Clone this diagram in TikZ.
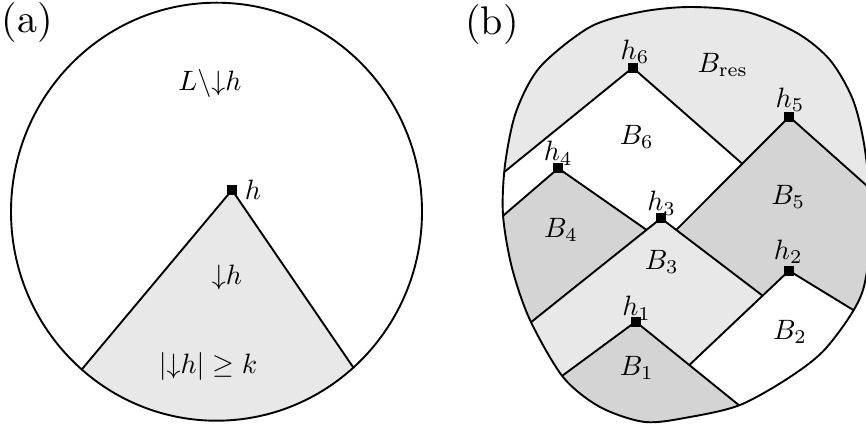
\documentclass[tikz,border=0pt]{standalone}
\definecolor{lightg}{gray}{0.91}
\definecolor{darkg}{gray}{0.83}
\begin{document}
\begin{tikzpicture}[x=1pt,y=-1pt,
  edge/.style={line width=1.9pt},
  hsq/.style={fill=black, minimum size=10pt, inner sep=0pt, outer sep=0pt, draw=none},
  lbl/.style={inner sep=0pt, scale=2.8},
  tag/.style={inner sep=0pt, scale=4.0}]
\useasboundingbox (0,0) rectangle (866,427);

% ---------- (a) ----------
\coordinate (C) at (216.5,211.7);
\coordinate (Ha) at (232,190);
\coordinate (AL) at (22.7,440);
\coordinate (AR) at (402.9,440);
\begin{scope}
  \clip (C) ellipse [x radius=205.5, y radius=209];
  \fill[lightg] (Ha) -- (AL) -- (AR) -- cycle;
  \draw[edge] (AL) -- (Ha) -- (AR);
\end{scope}
\draw[edge] (C) ellipse [x radius=205.5, y radius=209];
\node[hsq] (h) at (Ha) {};
\node[lbl] (hl) at (253,190) {$h$};
\node[lbl] (lout) at (210,84) {$L\backslash{\downarrow}h$};
\node[lbl] (ldown) at (227,277) {${\downarrow}h$};
\node[lbl] (lsize) at (208,366) {$|{\downarrow}h|\geq k$};
\node[tag] (ta) at (27.5,23) {(a)};

% ---------- (b) ----------
\coordinate (H6) at (632.7,67.7);
\coordinate (H5) at (789.3,116.7);
\coordinate (H4) at (558.3,168.3);
\coordinate (H3) at (661,218.3);
\coordinate (H2) at (789,270.7);
\coordinate (H1) at (635.7,321.7);
\coordinate (A6L) at (480,191.7);
\coordinate (A5R) at (890,206.4);
\coordinate (A4L) at (480,235.6);
\coordinate (A3L) at (480,363);
\coordinate (A2R) at (890,332.5);
\coordinate (A1L) at (480,436.3);
\coordinate (A1R) at (782,440);
\coordinate (D6R) at (741.7,163.3);
\coordinate (D5L) at (676.7,229.3);
\coordinate (D4R) at (646.7,230);
\coordinate (D3R) at (761.7,295);
\coordinate (D2L) at (691.7,362.7);
\coordinate (J65) at (intersection of H6--D6R and H5--D5L);
\coordinate (J53) at (intersection of H5--D5L and H3--D3R);
\coordinate (J43) at (intersection of H4--D4R and H3--A3L);
\coordinate (J32) at (intersection of H3--D3R and H2--D2L);
\coordinate (J21) at (intersection of H2--D2L and H1--A1R);

\begin{scope}
  \clip plot[smooth cycle, tension=0.5] coordinates {(690,7) (747,12) (797,33) (830,60) (853,100) (865,150) (871,222) (862,293) (827,347) (790,377) (740,405) (690,417) (645,422) (600,407) (563,377) (530,320) (512,268) (503,215) (505,165) (516,112) (540,67) (590,27) (640,12)};
  \fill[lightg] (470,0) rectangle (890,440);
  \fill[white] (A6L) -- (H6) -- (J65) -- (J53) -- (H3) -- (J43) -- (H4) -- (A4L) -- cycle;
  \fill[darkg] (H5) -- (A5R) -- (A2R) -- (H2) -- (J32) -- (J53) -- cycle;
  \fill[darkg] (H4) -- (J43) -- (A3L) -- (A4L) -- cycle;
  \fill[lightg] (H3) -- (J32) -- (J21) -- (H1) -- (A1L) -- (A3L) -- cycle;
  \fill[white] (H2) -- (A2R) -- (890,440) -- (A1R) -- (J21) -- cycle;
  \fill[darkg] (H1) -- (A1R) -- (480,440) -- (A1L) -- cycle;
  \draw[edge] (A6L) -- (H6) -- (J65);
  \draw[edge] (A5R) -- (H5) -- (J53);
  \draw[edge] (A4L) -- (H4) -- (J43);
  \draw[edge] (A3L) -- (H3) -- (J32);
  \draw[edge] (A2R) -- (H2) -- (J21);
  \draw[edge] (A1L) -- (H1) -- (A1R);
\end{scope}
\draw[edge] plot[smooth cycle, tension=0.5] coordinates {(690,7) (747,12) (797,33) (830,60) (853,100) (865,150) (871,222) (862,293) (827,347) (790,377) (740,405) (690,417) (645,422) (600,407) (563,377) (530,320) (512,268) (503,215) (505,165) (516,112) (540,67) (590,27) (640,12)};

\node[hsq] (h6) at (H6) {};
\node[hsq] (h5) at (H5) {};
\node[hsq] (h4) at (H4) {};
\node[hsq] (h3) at (H3) {};
\node[hsq] (h2) at (H2) {};
\node[hsq] (h1) at (H1) {};
\node[lbl] (lh6) at (635,52) {$h_6$};
\node[lbl] (lh5) at (790,100) {$h_5$};
\node[lbl] (lh4) at (558.3,153.3) {$h_4$};
\node[lbl] (lh3) at (661.7,203.3) {$h_3$};
\node[lbl] (lh2) at (788.3,251.7) {$h_2$};
\node[lbl] (lh1) at (636.7,308.3) {$h_1$};
\node[lbl] (bres) at (722.7,65) {$B_{\mathrm{res}}$};
\node[lbl] (b6) at (636.7,136.7) {$B_6$};
\node[lbl] (b5) at (788.3,196.7) {$B_5$};
\node[lbl] (b4) at (561,230) {$B_4$};
\node[lbl] (b3) at (661.7,261.7) {$B_3$};
\node[lbl] (b2) at (790,331.7) {$B_2$};
\node[lbl] (b1) at (636.7,368.3) {$B_1$};
\node[tag] (tb) at (492,25) {(b)};
\end{tikzpicture}
\end{document}
